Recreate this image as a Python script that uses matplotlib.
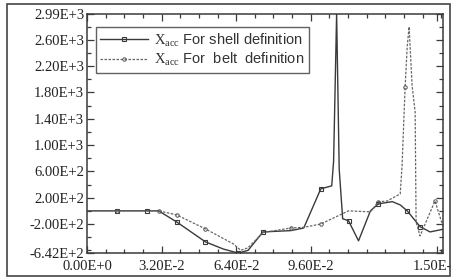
"""
Acceleration curves for shell and belt definition (scanned figure look)
"""

import matplotlib
matplotlib.use('Agg')
import matplotlib.pyplot as plt
from matplotlib.ticker import FixedLocator, MultipleLocator
from matplotlib.patches import Rectangle

# data
shell_t = [0.0, 0.0128, 0.0256, 0.0307, 0.0384, 0.0508, 0.0585, 0.0649, 0.0691,
           0.0755, 0.0875, 0.0930, 0.1003, 0.1050, 0.1058, 0.1071, 0.1082, 0.1097,
           0.1122, 0.1165, 0.1216, 0.1250, 0.1310, 0.1344, 0.1374, 0.1429, 0.1472,
           0.1527]
shell_acc = [0, 0, 0, 0, -167, -471, -580, -642, -600,
             -320, -300, -260, 334, 380, 750, 2990, 640, -120,
             -150, -455, 0, 106, 140, 90, 0, -240, -320,
             -280]
shell_marks = [1, 2, 4, 5, 7, 9, 12, 18, 21, 24, 25]

belt_t = [0.0, 0.0128, 0.0256, 0.0307, 0.0384, 0.0508, 0.0627, 0.0660, 0.0691,
          0.0755, 0.0875, 0.0930, 0.1003, 0.1122, 0.1216, 0.1250, 0.1288, 0.1344,
          0.1352, 0.1365, 0.1374, 0.1382, 0.1395, 0.1408, 0.1412, 0.1429, 0.1493,
          0.1527]
belt_acc = [0, 0, 0, 0, -60, -274, -500, -600, -560,
            -330, -260, -250, -200, 0, -15, 137, 150, 258,
            700, 1885, 2500, 2796, 1900, 1500, -170, -380, 150,
            -230]
belt_marks = [1, 3, 4, 5, 10, 12, 15, 19, 26]

y_ticks = [2990, 2600, 2200, 1800, 1400, 1000, 600, 200, -200, -642]
y_labels = ['2.99E+3', '2.60E+3', '2.20E+3', '1.80E+3', '1.40E+3',
            '1.00E+3', '6.00E+2', '2.00E+2', '-2.00E+2', '-6.42E+2']
x_ticks = [0.0, 0.032, 0.064, 0.096, 0.15]
x_labels = ['0.00E+0', '3.20E-2', '6.40E-2', '9.60E-2', '1.50E-1']

ink = '#3a3a3a'

plt.rcParams['mathtext.fontset'] = 'custom'
plt.rcParams['mathtext.rm'] = 'Liberation Serif'

fig = plt.figure(figsize=(4.51, 2.80), dpi=100)
ax = fig.add_axes([0.193, 0.096, 0.789, 0.854])

ax.plot(shell_t, shell_acc, color=ink, lw=1.0, marker='s', ms=2.5,
        markevery=shell_marks, mfc='none', mec=ink, mew=0.8,
        label=r'$\mathrm{X}_{\mathrm{acc}}$ For shell definition')
ax.plot(belt_t, belt_acc, color='#666666', lw=0.9, ls=(0, (2, 1.2)),
        marker='o', ms=2.5, markevery=belt_marks, mfc='none', mec='#555555',
        mew=0.7, label=r'$\mathrm{X}_{\mathrm{acc}}$ For  belt  definition')

ax.set_xlim(0, 0.1527)
ax.set_ylim(-642, 2990)

ax.xaxis.set_major_locator(FixedLocator(x_ticks))
ax.set_xticklabels(x_labels, family='Liberation Serif', fontsize=10.5, color='#222222')
ax.xaxis.set_minor_locator(MultipleLocator(0.008))
ax.yaxis.set_major_locator(FixedLocator(y_ticks))
ax.set_yticklabels(y_labels, family='Liberation Serif', fontsize=10.5, color='#222222')
ax.yaxis.set_minor_locator(MultipleLocator(200))

ax.tick_params(which='both', direction='in', top=True, right=True,
               color=ink, width=0.9)
ax.tick_params(which='major', length=5)
ax.tick_params(axis='x', which='major', pad=5)
ax.tick_params(axis='y', which='major', pad=2)
ax.tick_params(which='minor', length=3)
for s in ax.spines.values():
    s.set_color(ink)
    s.set_linewidth(1.1)

leg = ax.legend(loc='upper left', bbox_to_anchor=(0.025, 0.945), frameon=True,
                fancybox=False, prop={'family': 'Liberation Sans', 'size': 10.5},
                handlelength=3.3, handletextpad=0.4, borderpad=0.3,
                labelspacing=0.1, borderaxespad=0)
leg.get_frame().set_edgecolor(ink)
leg.get_frame().set_linewidth(1.0)
for t in leg.get_texts():
    t.set_color('#333333')

# outer scan frame
fig.patches.append(Rectangle((7 / 451, 4 / 280), 443 / 451, 272 / 280,
                             transform=fig.transFigure, fill=False,
                             edgecolor='#444444', lw=1.2))

fig.savefig('out.png', dpi=100)
